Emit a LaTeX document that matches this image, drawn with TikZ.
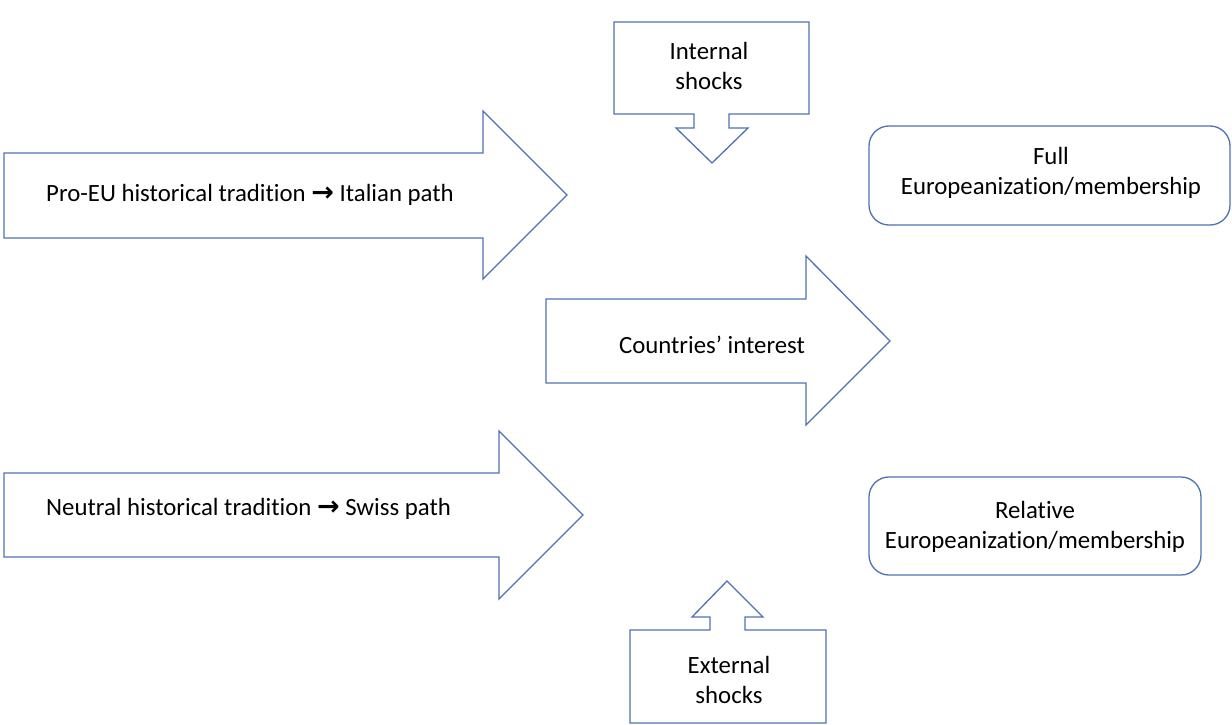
\documentclass[tikz,border=0pt]{standalone}
\usepackage{fontspec}
\setmainfont{Carlito}[Ligatures={NoCommon}]
\newfontfamily\arrowfont{DejaVu Sans}[BoldFont={DejaVu Sans Bold}]
\newcommand{\thickarrow}{{\arrowfont\bfseries\fontsize{27}{22}\selectfont →}}
\definecolor{shapeblue}{RGB}{79,114,180}
\begin{document}
\begin{tikzpicture}[x=1pt,y=-1pt,
  shapeline/.style={draw=shapeblue,line width=1.3pt,line join=miter,fill=white},
  lbl/.style={inner sep=0pt,font=\fontsize{24.8}{29.5}\selectfont,align=center,text=black},
  roundbox/.style={shapeline,rounded corners=20pt}]
\useasboundingbox (0,0) rectangle (1232,725);
% top callout: internal shocks
\draw[shapeline] (614,22) -- (809,22) -- (809,114) -- (729,114) -- (729,128) -- (748,128)
  -- (712,163) -- (676,128) -- (694,128) -- (694,114) -- (614,114) -- cycle;
\node[lbl] (internal) at (709,66) {Internal\\shocks};
% arrow Pro-EU
\draw[shapeline] (4,153) -- (483,153) -- (483,111) -- (567,195) -- (483,279) -- (483,238) -- (4,238) -- cycle;
\node[lbl,anchor=base west] (proeu) at (46,201) {Pro-EU historical tradition \thickarrow\ Italian path};
% arrow Countries' interest
\draw[shapeline] (546,299) -- (806,299) -- (806,256) -- (890,341) -- (806,425) -- (806,383) -- (546,383) -- cycle;
\node[lbl] (interest) at (712,345) {Countries’ interest};
% arrow Neutral
\draw[shapeline] (4,473) -- (499,473) -- (499,431) -- (583,515) -- (499,599) -- (499,557) -- (4,557) -- cycle;
\node[lbl,anchor=base west] (neutral) at (46,515) {Neutral historical tradition \thickarrow\ Swiss path};
% rounded boxes
\draw[roundbox] (869,126) rectangle (1230,225);
\node[lbl] (full) at (1051,173) {Full\\Europeanization/membership};
\draw[roundbox] (869,477) rectangle (1201,575);
\node[lbl] (relative) at (1035,527) {Relative\\Europeanization/membership};
% bottom callout: external shocks
\draw[shapeline] (630,723) -- (630,630) -- (710,630) -- (710,617) -- (692,617) -- (727,581)
  -- (763,617) -- (745,617) -- (745,630) -- (826,630) -- (826,723) -- cycle;
\node[lbl] (external) at (729,680) {External\\shocks};
\end{tikzpicture}
\end{document}
